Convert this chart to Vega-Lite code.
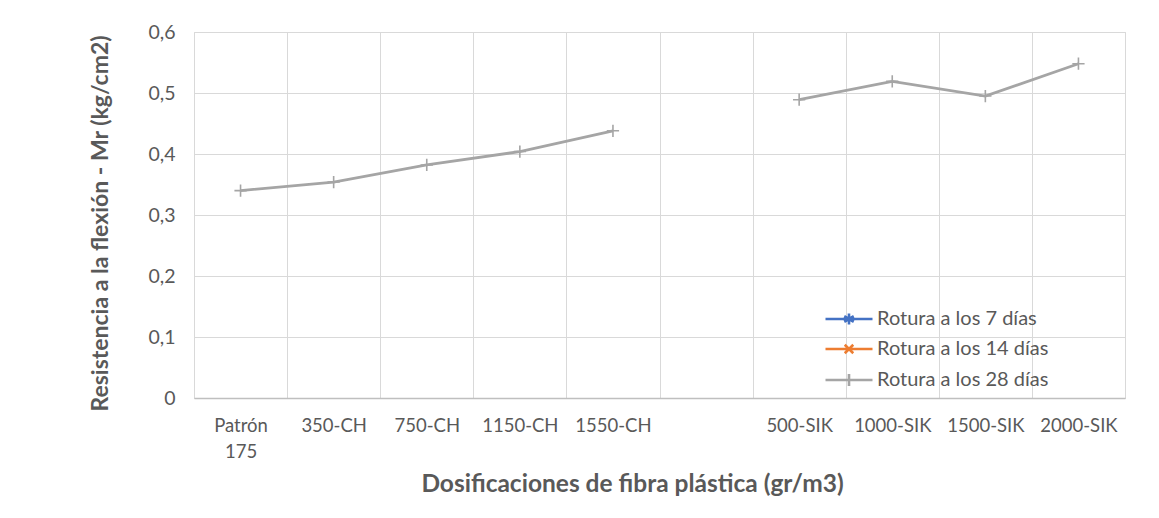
{
  "$schema": "https://vega.github.io/schema/vega-lite/v6.json",
  "width": 931,
  "height": 366,
  "autosize": {"type": "none"},
  "padding": {"left": 194, "top": 32, "right": 34, "bottom": 120},
  "background": "white",
  "config": {
    "font": "Lato",
    "view": {"stroke": "#d9d9d9", "strokeWidth": 1},
    "axis": {"labelColor": "#595959", "titleColor": "#595959", "gridColor": "#d9d9d9", "labelFont": "Lato", "titleFont": "Lato"},
    "legend": {"labelFont": "Lato"}
  },
  "data": {
    "values": [
      {"dosificacion": "Patrón 175", "serie": "Rotura a los 28 días", "mr": 0.340},
      {"dosificacion": "350-CH", "serie": "Rotura a los 28 días", "mr": 0.354},
      {"dosificacion": "750-CH", "serie": "Rotura a los 28 días", "mr": 0.382},
      {"dosificacion": "1150-CH", "serie": "Rotura a los 28 días", "mr": 0.404},
      {"dosificacion": "1550-CH", "serie": "Rotura a los 28 días", "mr": 0.438},
      {"dosificacion": " ", "serie": "Rotura a los 28 días", "mr": null},
      {"dosificacion": "500-SIK", "serie": "Rotura a los 28 días", "mr": 0.489},
      {"dosificacion": "1000-SIK", "serie": "Rotura a los 28 días", "mr": 0.519},
      {"dosificacion": "1500-SIK", "serie": "Rotura a los 28 días", "mr": 0.495},
      {"dosificacion": "2000-SIK", "serie": "Rotura a los 28 días", "mr": 0.548}
    ]
  },
  "encoding": {
    "x": {
      "field": "dosificacion",
      "type": "ordinal",
      "sort": null,
      "bandPosition": 0.5,
      "scale": {"type": "band", "paddingInner": 0, "paddingOuter": 0, "domain": ["Patrón 175", "350-CH", "750-CH", "1150-CH", "1550-CH", " ", "500-SIK", "1000-SIK", "1500-SIK", "2000-SIK"]},
      "axis": {
        "title": "Dosificaciones de fibra plástica (gr/m3)",
        "titleFontSize": 24.5,
        "titleFontWeight": "bold",
        "titleX": 438,
        "titleY": 86,
        "titleBaseline": "middle",
        "titleAlign": "center",
        "labelAngle": 0,
        "labelFontSize": 18.5,
        "labelPadding": 18,
        "labelLineHeight": 26,
        "labelExpr": "datum.label == 'Patrón 175' ? ['Patrón', '175'] : datum.label",
        "ticks": false,
        "tickBand": "extent",
        "grid": true,
        "domainColor": "#bfbfbf",
        "domainWidth": 1.5
      }
    },
    "y": {
      "field": "mr",
      "type": "quantitative",
      "scale": {"domain": [0, 0.6], "nice": false, "zero": true},
      "axis": {
        "title": "Resistencia a la flexión - Mr (kg/cm2)",
        "titleFontSize": 23,
        "titleFontWeight": "bold",
        "titleX": -94,
        "titleY": 191,
        "titleBaseline": "middle",
        "titleAlign": "center",
        "values": [0, 0.1, 0.2, 0.3, 0.4, 0.5, 0.6],
        "labelExpr": "datum.value == 0 ? '0' : replace(format(datum.value, '.1f'), '.', ',')",
        "labelFontSize": 19.5,
        "labelPadding": 19,
        "ticks": false,
        "domain": false,
        "grid": true
      }
    }
  },
  "layer": [
    {
      "mark": {"type": "line", "strokeWidth": 2.8, "invalid": "break-paths-show-domains"},
      "encoding": {
        "color": {
          "field": "serie",
          "type": "nominal",
          "scale": {"domain": ["Rotura a los 7 días", "Rotura a los 14 días", "Rotura a los 28 días"], "range": ["#4472c4", "#ed7d31", "#a5a5a5"]},
          "legend": {
            "title": null,
            "orient": "none",
            "legendX": 645,
            "legendY": 277,
            "padding": 0,
            "labelFontSize": 20,
            "labelColor": "#595959",
            "labelOffset": 18,
            "labelLimit": 400,
            "rowPadding": 9,
            "symbolSize": 100,
            "symbolStrokeWidth": 2.6,
            "symbolFillColor": "transparent",
            "encode": {
              "symbols": {
                "update": {
                  "shape": {"signal": "datum.value == 'Rotura a los 7 días' ? 'M-4.7,0H4.7M0,-1.1V1.1M-0.95,-0.55L0.95,0.55M-0.95,0.55L0.95,-0.55' : datum.value == 'Rotura a los 14 días' ? 'M-4.7,0H4.7M-0.85,-0.85L0.85,0.85M-0.85,0.85L0.85,-0.85' : 'M-4.7,0H4.7M0,-1.2V1.2'"},
                  "fill": {"value": "transparent"}
                }
              }
            }
          }
        }
      }
    },
    {
      "mark": {"type": "point", "shape": "M-1,0H1M0,-1V1", "filled": false, "size": 150, "stroke": "#a5a5a5", "strokeWidth": 1.6, "opacity": 1},
      "encoding": {}
    }
  ]
}
